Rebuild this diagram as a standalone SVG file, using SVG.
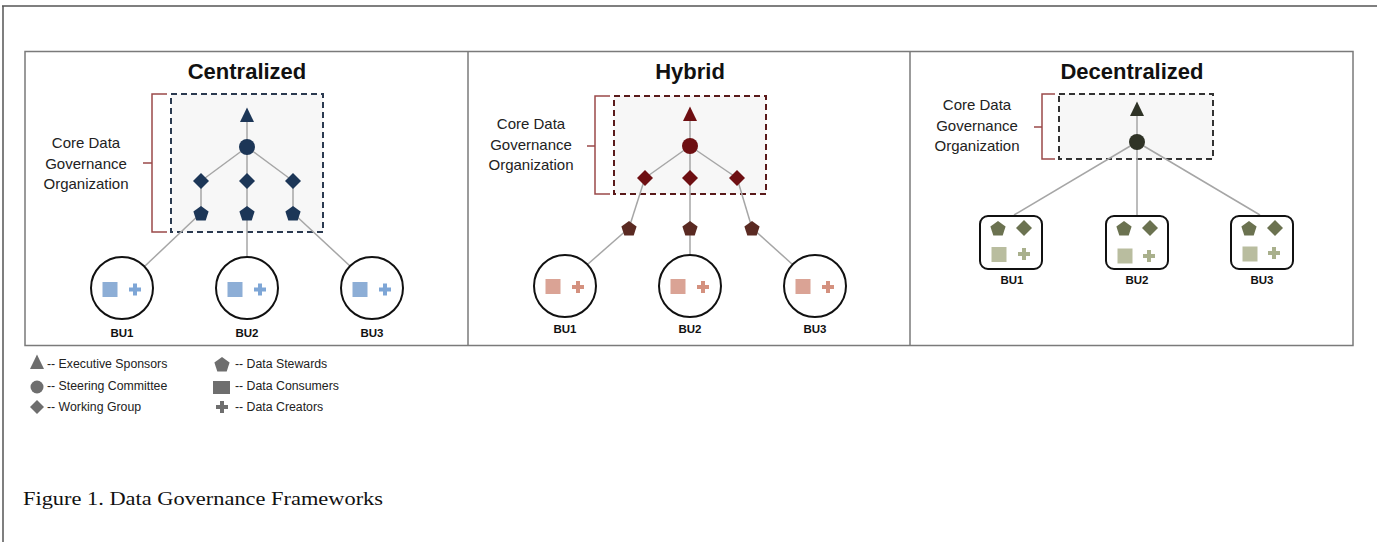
<svg xmlns="http://www.w3.org/2000/svg" width="1377" height="542" viewBox="0 0 1377 542">
<style>
.title{font-family:"Liberation Sans",Arial,sans-serif;font-weight:bold;font-size:22px;fill:#111;text-anchor:middle}
.core{font-family:"Liberation Sans",Arial,sans-serif;font-size:15px;fill:#222;text-anchor:middle}
.bu{font-family:"Liberation Sans",Arial,sans-serif;font-weight:bold;font-size:11.5px;fill:#111;text-anchor:middle}
.leg{font-family:"Liberation Sans",Arial,sans-serif;font-size:12.3px;fill:#222}
.cap{font-family:"Liberation Serif","Times New Roman",serif;font-size:19px;fill:#111}
.conn line{stroke:#a6a6a6;stroke-width:1.5}
.bracket{fill:none;stroke:#9b4a4a;stroke-width:1.5}
.bucirc{fill:#fff;stroke:#111;stroke-width:2}
.bubox{fill:#fff;stroke:#111;stroke-width:2}
.core-box{fill:#f7f7f7;stroke-width:2;stroke-dasharray:6 4}
</style>
<defs>
<polygon id="tri" points="0,-7.5 7,7 -7,7"/>
<polygon id="dia" points="0,-8 8,0 0,8 -8,0"/>
<polygon id="pent" points="0,-8 7.6,-2.5 4.7,6.5 -4.7,6.5 -7.6,-2.5"/>
<path id="plus" d="M-2,-6h4v4h4v4h-4v4h-4v-4h-4v-4h4z"/>
<rect id="sq" x="-7.5" y="-7.5" width="15" height="15"/>
</defs>
<rect width="1377" height="542" fill="#fff"/>
<g id="frame">
<line x1="2" y1="6" x2="1377" y2="6" stroke="#555" stroke-width="1.5"/>
<line x1="3" y1="6" x2="3" y2="542" stroke="#555" stroke-width="1.5"/>
<rect x="25" y="51.5" width="1328" height="294" fill="none" stroke="#7a7a7a" stroke-width="1.5"/>
<line x1="468" y1="51.5" x2="468" y2="345.5" stroke="#7a7a7a" stroke-width="1.5"/>
<line x1="910" y1="51.5" x2="910" y2="345.5" stroke="#7a7a7a" stroke-width="1.5"/>
</g>

<g id="centralized">
<text class="title" x="247" y="79">Centralized</text>
<rect class="core-box" x="171" y="94" width="152" height="138" stroke="#2b3a50"/>
<path class="bracket" d="M167,94 H152 V232 H167 M152,163 H143"/>
<text class="core" x="86" y="148">Core Data</text>
<text class="core" x="86" y="169">Governance</text>
<text class="core" x="86" y="189">Organization</text>
</g>
<g id="hybrid">
<text class="title" x="690" y="79">Hybrid</text>
<rect class="core-box" x="614" y="96" width="152" height="98" stroke="#5a1a1a"/>
<path class="bracket" d="M610,96 H595 V194 H610 M595,146 H587"/>
<text class="core" x="531" y="129">Core Data</text>
<text class="core" x="531" y="150">Governance</text>
<text class="core" x="531" y="170">Organization</text>
</g>
<g id="decentralized">
<text class="title" x="1132" y="79">Decentralized</text>
<rect class="core-box" x="1059" y="94" width="154" height="65" stroke="#333"/>
<path class="bracket" d="M1055,94 H1042 V159 H1055 M1042,127 H1034"/>
<text class="core" x="977" y="110">Core Data</text>
<text class="core" x="977" y="131">Governance</text>
<text class="core" x="977" y="151">Organization</text>
</g>

<g id="connectors" class="conn">
<line x1="247" y1="115" x2="247" y2="147"/>
<line x1="247" y1="147" x2="201" y2="181"/>
<line x1="247" y1="147" x2="247" y2="181"/>
<line x1="247" y1="147" x2="293" y2="181"/>
<line x1="201" y1="181" x2="201" y2="213"/>
<line x1="247" y1="181" x2="247" y2="213"/>
<line x1="293" y1="181" x2="293" y2="213"/>
<line x1="201" y1="213" x2="145" y2="266"/>
<line x1="247" y1="213" x2="247" y2="257"/>
<line x1="293" y1="213" x2="350" y2="266"/>
<line x1="690" y1="114" x2="690" y2="146"/>
<line x1="690" y1="146" x2="645" y2="178"/>
<line x1="690" y1="146" x2="690" y2="178"/>
<line x1="690" y1="146" x2="737" y2="178"/>
<line x1="645" y1="178" x2="629" y2="228"/>
<line x1="690" y1="178" x2="690" y2="228"/>
<line x1="737" y1="178" x2="752" y2="228"/>
<line x1="629" y1="228" x2="588" y2="264"/>
<line x1="690" y1="228" x2="690" y2="255"/>
<line x1="752" y1="228" x2="792" y2="264"/>
<line x1="1137" y1="110" x2="1137" y2="142"/>
<line x1="1137" y1="142" x2="1014" y2="215"/>
<line x1="1137" y1="142" x2="1137" y2="215"/>
<line x1="1137" y1="142" x2="1260" y2="215"/>
</g>

<g id="centralized-core" fill="#1c3657">
<use href="#tri" x="247" y="115"/>
<circle cx="247" cy="147" r="8"/>
<use href="#dia" x="201" y="181"/>
<use href="#dia" x="247" y="181"/>
<use href="#dia" x="293" y="181"/>
<use href="#pent" x="201" y="214"/>
<use href="#pent" x="247" y="214"/>
<use href="#pent" x="293" y="214"/>
</g>
<g id="c-bu1">
<circle class="bucirc" cx="122" cy="288" r="31"/>
<use href="#sq" x="110" y="289.5" fill="#8daed6"/>
<use href="#plus" x="135" y="289.5" fill="#7ea6d6"/>
<text class="bu" x="122" y="337">BU1</text>
</g>
<g id="c-bu2">
<circle class="bucirc" cx="247" cy="288" r="31"/>
<use href="#sq" x="235" y="289.5" fill="#8daed6"/>
<use href="#plus" x="260" y="289.5" fill="#7ea6d6"/>
<text class="bu" x="247" y="337">BU2</text>
</g>
<g id="c-bu3">
<circle class="bucirc" cx="372" cy="288" r="31"/>
<use href="#sq" x="360" y="289.5" fill="#8daed6"/>
<use href="#plus" x="385" y="289.5" fill="#7ea6d6"/>
<text class="bu" x="372" y="337">BU3</text>
</g>

<g id="hybrid-core" fill="#6e0f12">
<use href="#tri" x="690" y="114"/>
<circle cx="690" cy="146" r="8"/>
<use href="#dia" x="645" y="178"/>
<use href="#dia" x="690" y="178"/>
<use href="#dia" x="737" y="178"/>
</g>
<g id="hybrid-stewards" fill="#5a2a22">
<use href="#pent" x="629" y="229"/>
<use href="#pent" x="690" y="229"/>
<use href="#pent" x="752" y="229"/>
</g>
<g id="h-bu1">
<circle class="bucirc" cx="565" cy="286" r="31"/>
<use href="#sq" x="553" y="286.5" fill="#daa395"/>
<use href="#plus" x="578" y="287" fill="#d4917f"/>
<text class="bu" x="565" y="333">BU1</text>
</g>
<g id="h-bu2">
<circle class="bucirc" cx="690" cy="286" r="31"/>
<use href="#sq" x="678" y="286.5" fill="#daa395"/>
<use href="#plus" x="703" y="287" fill="#d4917f"/>
<text class="bu" x="690" y="333">BU2</text>
</g>
<g id="h-bu3">
<circle class="bucirc" cx="815" cy="286" r="31"/>
<use href="#sq" x="803" y="286.5" fill="#daa395"/>
<use href="#plus" x="828" y="287" fill="#d4917f"/>
<text class="bu" x="815" y="333">BU3</text>
</g>

<g id="decentralized-core" fill="#2f3326">
<use href="#tri" x="1137" y="109"/>
<circle cx="1137" cy="142" r="8"/>
</g>
<g id="d-bu1">
<rect class="bubox" x="980" y="216" width="62" height="53" rx="8"/>
<use href="#pent" x="998" y="229" fill="#6b7250"/>
<use href="#dia" x="1024" y="228" fill="#6b7250"/>
<use href="#sq" x="999" y="254.5" fill="#b9bd9f"/>
<use href="#plus" x="1024" y="254" fill="#a9b08c"/>
<text class="bu" x="1012" y="284">BU1</text>
</g>
<g id="d-bu2">
<rect class="bubox" x="1106" y="216" width="62" height="53" rx="8"/>
<use href="#pent" x="1124" y="229" fill="#6b7250"/>
<use href="#dia" x="1150" y="228" fill="#6b7250"/>
<use href="#sq" x="1125" y="256" fill="#b9bd9f"/>
<use href="#plus" x="1149" y="256" fill="#a9b08c"/>
<text class="bu" x="1137" y="284">BU2</text>
</g>
<g id="d-bu3">
<rect class="bubox" x="1231" y="216" width="62" height="53" rx="8"/>
<use href="#pent" x="1249" y="229" fill="#6b7250"/>
<use href="#dia" x="1275" y="228" fill="#6b7250"/>
<use href="#sq" x="1250" y="254" fill="#b9bd9f"/>
<use href="#plus" x="1274" y="253" fill="#a9b08c"/>
<text class="bu" x="1262" y="284">BU3</text>
</g>

<g id="legend" fill="#6e6e6e">
<use href="#tri" x="37" y="362"/>
<text class="leg" x="47" y="368">-- Executive Sponsors</text>
<circle cx="37" cy="387" r="6.5"/>
<text class="leg" x="47" y="390">-- Steering Committee</text>
<polygon points="37,400 44,407 37,414 30,407"/>
<text class="leg" x="47" y="411">-- Working Group</text>
<use href="#pent" x="222" y="365"/>
<text class="leg" x="235" y="368">-- Data Stewards</text>
<rect x="213" y="381" width="17" height="13"/>
<text class="leg" x="235" y="390">-- Data Consumers</text>
<use href="#plus" x="222" y="407"/>
<text class="leg" x="235" y="411">-- Data Creators</text>
</g>

<text id="caption" class="cap" x="23" y="505" textLength="360" lengthAdjust="spacingAndGlyphs">Figure 1. Data Governance Frameworks</text>
</svg>
